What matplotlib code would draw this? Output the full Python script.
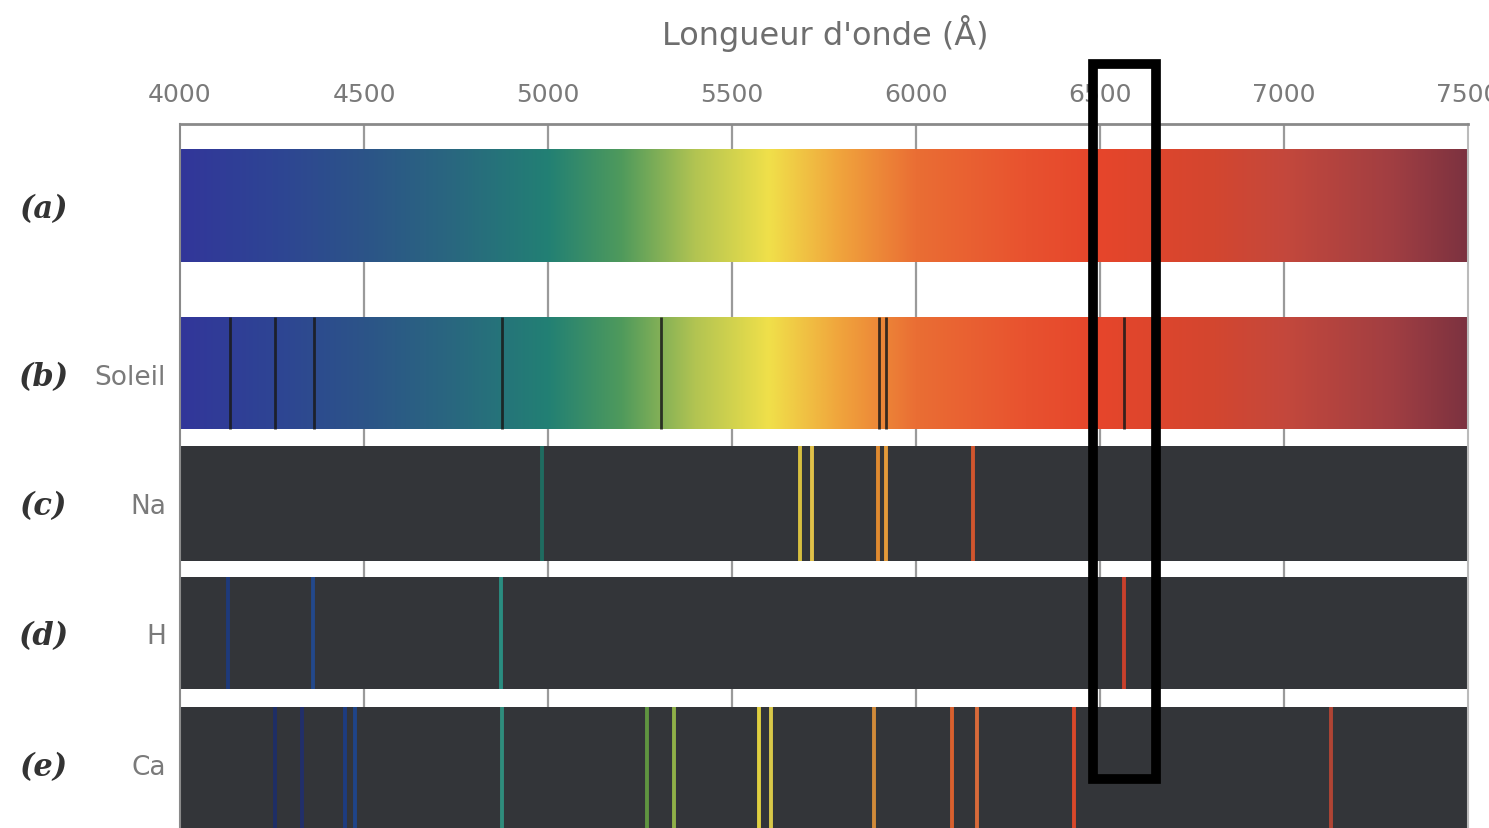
import numpy as np
import matplotlib
matplotlib.use("Agg")
import matplotlib.pyplot as plt
from matplotlib.colors import to_rgb
from matplotlib.patches import Rectangle

# ---------------- data ----------------
ticks = [4000, 4500, 5000, 5500, 6000, 6500, 7000, 7500]
row_letters = ["(a)", "(b)", "(c)", "(d)", "(e)"]
row_names = ["", "Soleil", "Na", "H", "Ca"]

# continuous spectrum colour stops (wavelength in Angstrom)
grad_wl = [4000, 4250, 4500, 4750, 5000, 5200, 5400, 5600, 5800, 6000, 6300, 6500, 6800, 7000, 7300, 7500]
grad_col = ["#32369a", "#2e4494", "#2c5488", "#29687f", "#228074", "#4f9a5c", "#b2c452",
            "#f0e04a", "#f0a23c", "#ea6e34", "#e8522f", "#e6452b", "#d4462f", "#c4483c", "#a03e42", "#7c3240"]

# solar absorption lines
sun_lines = [4136, 4258, 4364, 4874, 5308, 5899, 5918, 6564]

# emission lines: sodium
na_lines = [4983, 5685, 5718, 5896, 5918, 6154]
na_cols = ["#1f6b60", "#d8c040", "#e0c048", "#e08a30", "#e39a3a", "#d0552e"]

# emission lines: hydrogen
h_lines = [4130, 4361, 4873, 6566]
h_cols = ["#1e3a7a", "#23488a", "#2a8c80", "#c8402c"]

# emission lines: calcium
ca_lines = [4258, 4331, 4448, 4475, 4876, 5270, 5343, 5574, 5605, 5885, 6097, 6165, 6428, 7128]
ca_cols = ["#1e2e66", "#222f6a", "#1d3c80", "#1f4488", "#2f8c7c", "#5f9440", "#8fb048",
           "#e0d040", "#d8c848", "#d08a3a", "#d8602e", "#d86a3a", "#d8482a", "#b04434"]

# ---------------- layout ----------------
W, H = 1489, 829
fig = plt.figure(figsize=(W / 100, H / 100), dpi=100)
fig.patch.set_facecolor("white")
ax_top, ax_bot = 125, 829
ax = fig.add_axes([180 / W, (H - ax_bot) / H, (1468 - 180) / W, (ax_bot - ax_top) / H])
ax.set_xlim(4000, 7500)
ax.set_ylim(ax_bot - ax_top, 0)

# bands (top, bottom) in pixels from axes top
bands = [(25, 138), (193, 305), (322, 437), (453, 565), (583, 704)]
dark = "#333539"

# grid lines
for t in ticks[1:-1]:
    ax.axvline(t, color="#9a9a9a", lw=1.6, zorder=0)

# gradient
wl = np.linspace(4000, 7500, 1200)
rgb = np.array([to_rgb(c) for c in grad_col])
img = np.stack([np.interp(wl, grad_wl, rgb[:, k]) for k in range(3)], axis=-1)[None, :, :]
for i in (0, 1):
    t0, t1 = bands[i]
    ax.imshow(img, extent=(4000, 7500, t1, t0), aspect="auto", zorder=1, interpolation="bilinear")

# sun absorption lines
t0, t1 = bands[1]
for w in sun_lines:
    ax.plot([w, w], [t0, t1], color="#1a1a1a", lw=2.0, alpha=0.85, zorder=2, solid_capstyle="butt")

# dark emission bands
for i in (2, 3, 4):
    t0, t1 = bands[i]
    ax.add_patch(Rectangle((4000, t0), 3500, t1 - t0, color=dark, zorder=1, lw=0))

for i, (lines, cols) in zip((2, 3, 4), ((na_lines, na_cols), (h_lines, h_cols), (ca_lines, ca_cols))):
    t0, t1 = bands[i]
    for w, c in zip(lines, cols):
        ax.plot([w, w], [t0, t1], color=c, lw=2.8, zorder=2, solid_capstyle="butt")

# axes styling
ax.spines["bottom"].set_visible(False)
ax.spines["top"].set_color("#8a8a8a")
ax.spines["top"].set_linewidth(2)
ax.spines["left"].set_color("#8a8a8a")
ax.spines["left"].set_linewidth(1.5)
ax.spines["right"].set_color("#bbbbbb")
ax.spines["right"].set_linewidth(1.5)
ax.xaxis.set_ticks_position("top")
ax.xaxis.set_label_position("top")
ax.set_xticks(ticks)
ax.set_xticklabels([str(t) for t in ticks])
ax.tick_params(axis="x", length=0, pad=13, labelsize=18, labelcolor="#7a7a7a")
ax.set_yticks([])

fig.text(825 / W, 1 - 33 / H, "Longueur d'onde (Å)", ha="center", va="center",
         fontsize=23, color="#6e6e6e")

# row labels
label_y = [210, 378, 507, 637, 768]
for lt, nm, y in zip(row_letters, row_names, label_y):
    fig.text(43 / W, 1 - y / H, lt, ha="center", va="center", fontsize=22,
             family="DejaVu Serif", style="italic", weight="bold", color="#333333")
    if nm:
        fig.text(166 / W, 1 - y / H, nm, ha="right", va="center", fontsize=19, color="#7a7a7a")

# highlight rectangle (H-alpha region)
x0 = 4000 + (1094 - 180) / 368.6 * 1000
x1 = 4000 + (1158 - 180) / 368.6 * 1000
y0 = 65 - ax_top
y1 = 780 - ax_top
ax.add_patch(Rectangle((x0, y0), x1 - x0, y1 - y0, fill=False, ec="black", lw=7,
                       zorder=5, clip_on=False, joinstyle="miter"))

fig.savefig("out.png", dpi=100)
